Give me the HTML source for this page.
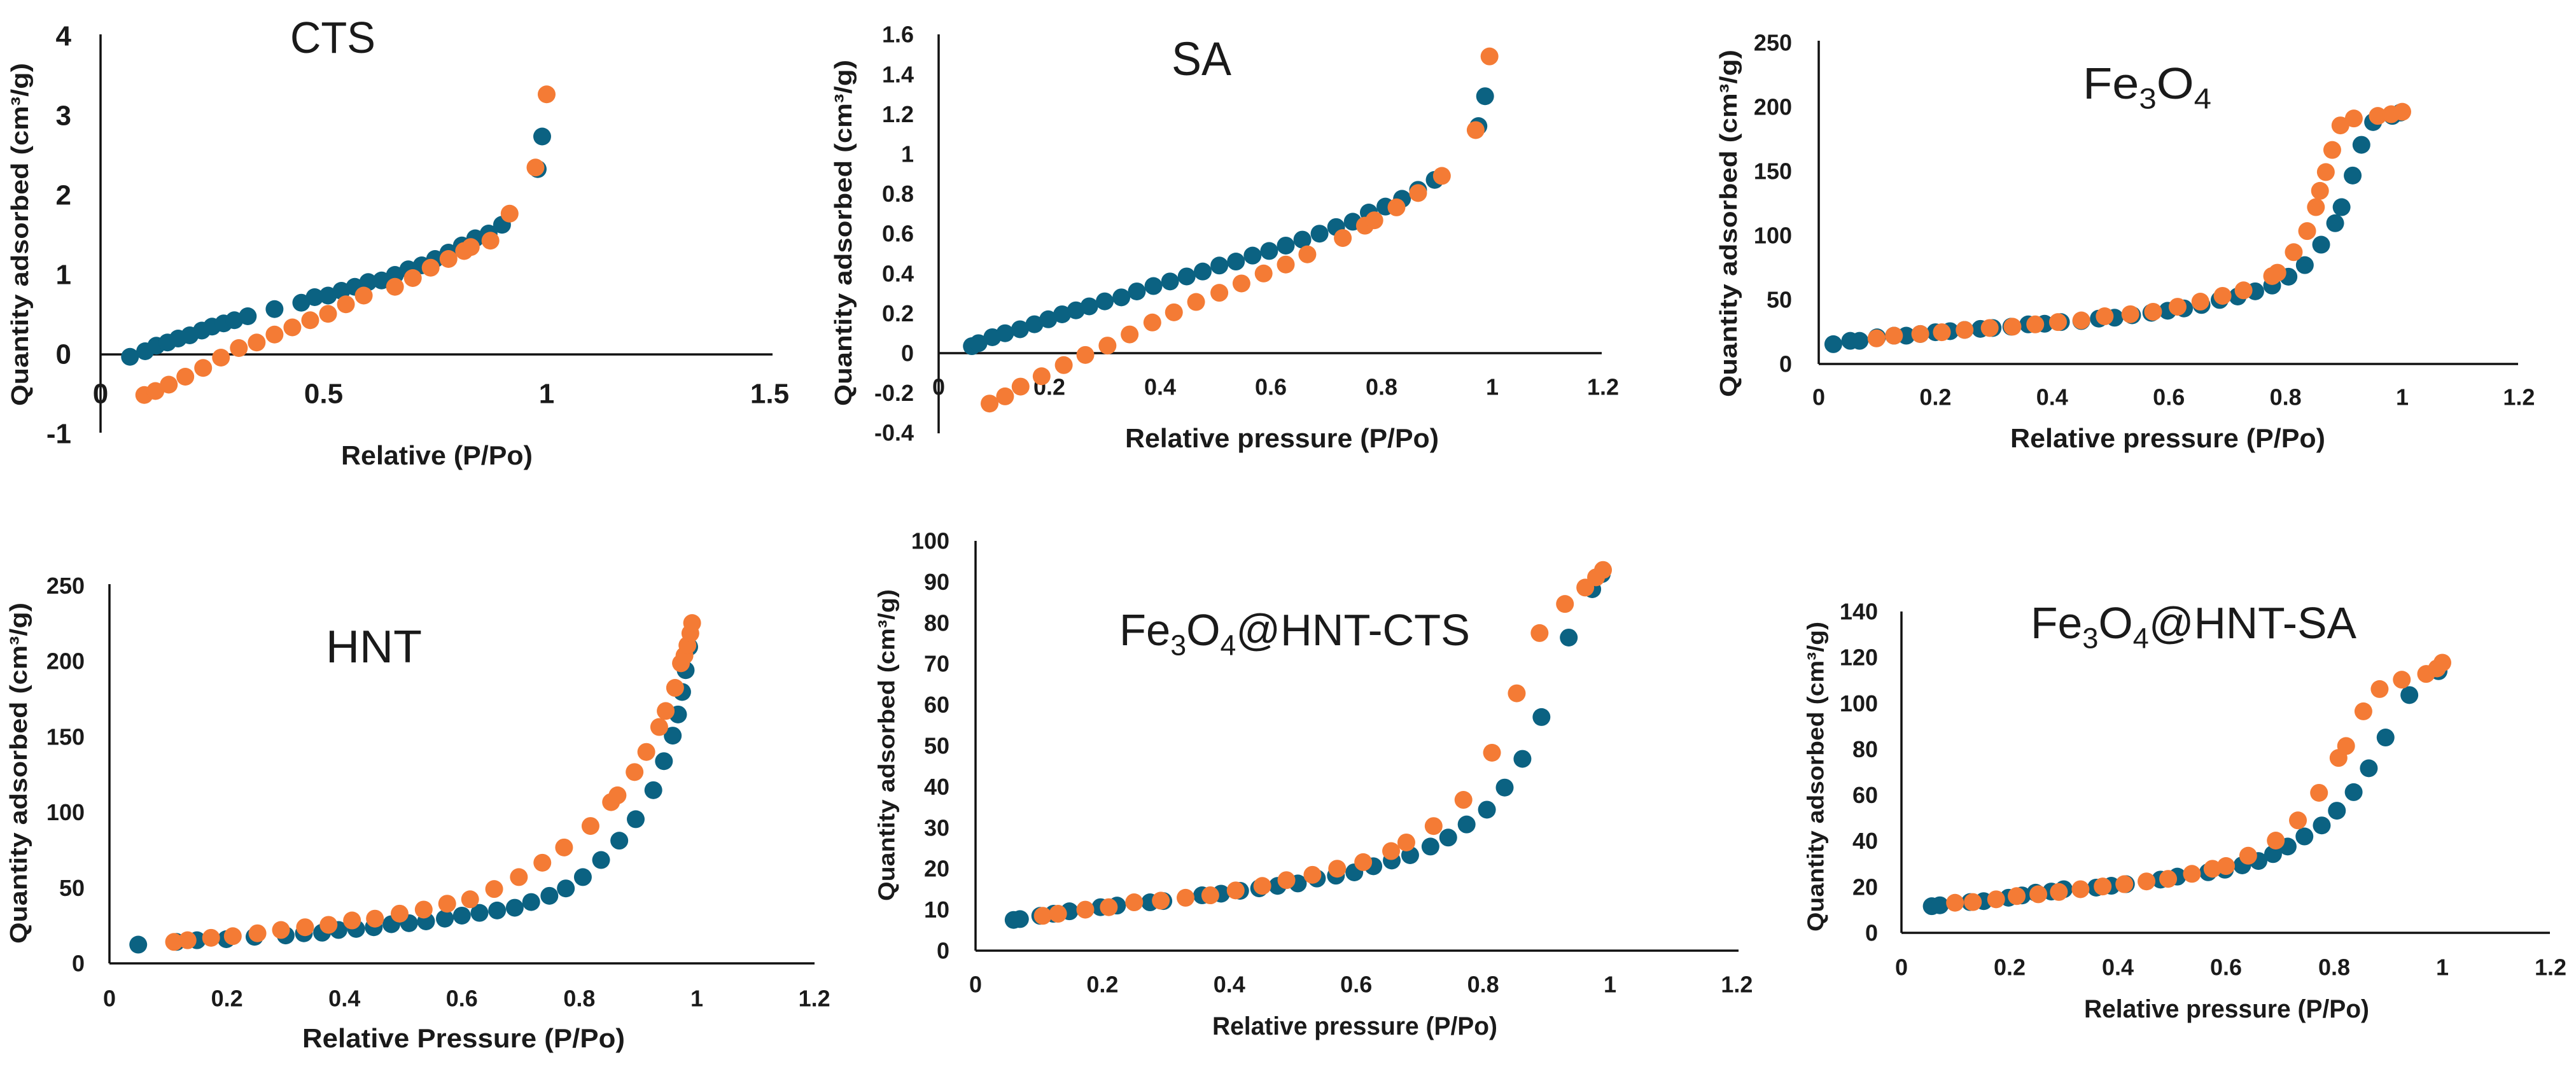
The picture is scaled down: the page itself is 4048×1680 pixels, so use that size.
<!DOCTYPE html>
<html><head><meta charset="utf-8"><style>
html,body{margin:0;padding:0;background:#fff;}
svg{display:block;}
text{font-family:"Liberation Sans Narrow","Liberation Sans",sans-serif;fill:#1a1a1a;}
.tick{font-weight:bold;}
.yt{font-family:"Liberation Sans",sans-serif;font-weight:bold;}
.ttl{font-family:"Liberation Sans",sans-serif;}
</style></head><body>
<svg id="fig" width="4048" height="1680" viewBox="0 0 4048 1680" xmlns="http://www.w3.org/2000/svg"></svg>
<script>
// ---- data ----
const ctsBx=[0.066,0.10,0.125,0.15,0.174,0.2,0.227,0.25,0.276,0.3,0.33,0.39,0.45,0.48,0.51,0.54,0.57,0.6,0.63,0.66,0.69,0.72,0.75,0.78,0.81,0.84,0.87,0.9,0.98,0.99];
const ctsBy=[-0.03,0.04,0.11,0.15,0.2,0.24,0.3,0.35,0.39,0.43,0.48,0.57,0.65,0.72,0.74,0.8,0.85,0.91,0.93,1.0,1.07,1.12,1.2,1.28,1.37,1.46,1.52,1.63,2.33,2.74];
const ctsOx=[0.098,0.123,0.153,0.19,0.23,0.27,0.31,0.35,0.39,0.43,0.47,0.51,0.55,0.59,0.66,0.7,0.74,0.78,0.815,0.83,0.874,0.917,0.975,1.0];
const ctsOy=[-0.51,-0.46,-0.38,-0.28,-0.17,-0.04,0.08,0.15,0.25,0.34,0.43,0.51,0.63,0.74,0.85,0.96,1.09,1.2,1.3,1.35,1.43,1.77,2.35,3.27];
const ctsXTicks=["0","0.5","1","1.5"];
const ctsYTicks=["-1","0","1","2","3","4"];

const saBx=[0.06,0.072,0.097,0.12,0.147,0.173,0.198,0.223,0.248,0.272,0.3,0.33,0.358,0.388,0.418,0.448,0.477,0.507,0.537,0.567,0.597,0.627,0.657,0.688,0.718,0.748,0.777,0.807,0.837,0.866,0.896,0.975,0.987];
const saBy=[0.035,0.05,0.08,0.1,0.12,0.145,0.17,0.195,0.215,0.235,0.26,0.28,0.31,0.337,0.36,0.385,0.41,0.44,0.46,0.49,0.513,0.54,0.57,0.6,0.633,0.66,0.706,0.736,0.775,0.82,0.87,1.14,1.29];
const saOx=[0.092,0.12,0.148,0.186,0.226,0.265,0.305,0.345,0.386,0.425,0.465,0.507,0.547,0.587,0.627,0.666,0.73,0.77,0.787,0.827,0.866,0.909,0.97,0.995];
const saOy=[-0.253,-0.217,-0.168,-0.116,-0.06,-0.009,0.038,0.094,0.154,0.205,0.257,0.303,0.35,0.4,0.445,0.496,0.578,0.64,0.667,0.732,0.804,0.89,1.12,1.49];
const saXTicks=["0","0.2","0.4","0.6","0.8","1","1.2"];
const saYTicks=["-0.4","-0.2","0","0.2","0.4","0.6","0.8","1","1.2","1.4","1.6"];

const feBx=[0.025,0.054,0.07,0.1,0.129,0.15,0.174,0.2,0.225,0.25,0.277,0.298,0.33,0.359,0.387,0.415,0.45,0.48,0.507,0.537,0.57,0.598,0.626,0.656,0.687,0.718,0.748,0.777,0.805,0.833,0.861,0.885,0.896,0.915,0.93,0.95,0.983,0.997];
const feBy=[15.4,18,18,20.7,22,22,23.3,24.7,25.5,26.5,27.3,28,29,30.8,31.3,32.6,33.4,35.3,36,37.9,39.8,41.4,43.2,45.9,49.8,52.5,56.5,61,67.9,76.9,92.8,109.5,122,146.6,170.5,188.2,193,195.6];
const feOx=[0.099,0.129,0.174,0.211,0.25,0.293,0.332,0.371,0.41,0.45,0.49,0.534,0.573,0.615,0.654,0.692,0.728,0.777,0.786,0.814,0.837,0.852,0.859,0.869,0.88,0.894,0.917,0.958,0.981,1.0];
const feOy=[19.9,22,23.3,24.7,26.5,28,29,30.8,32.6,33.9,37.1,38.7,40.6,44.5,48.5,53,57.3,68.4,71,87,103.4,122,134.7,149.3,166.5,185.6,191,193,194.3,196.2];
const feXTicks=["0","0.2","0.4","0.6","0.8","1","1.2"];
const feYTicks=["0","50","100","150","200","250"];

const hntBx=[0.049,0.114,0.149,0.199,0.247,0.3,0.331,0.362,0.39,0.42,0.45,0.48,0.51,0.539,0.571,0.6,0.63,0.66,0.69,0.718,0.749,0.777,0.806,0.837,0.868,0.896,0.926,0.944,0.959,0.968,0.975,0.981,0.987];
const hntBy=[12.4,14.2,15.3,16,17.6,18.5,19.9,20.3,22.1,22.8,23.9,25.9,26.6,27.8,29.6,31.6,33.4,35,36.8,40.6,44.7,49.6,57.1,68.4,81.2,95.4,114.6,133.8,150.7,164.7,179.6,194,209.4];
const hntOx=[0.11,0.133,0.173,0.21,0.252,0.292,0.333,0.373,0.413,0.452,0.494,0.535,0.575,0.614,0.655,0.697,0.737,0.774,0.819,0.854,0.865,0.894,0.914,0.936,0.947,0.963,0.973,0.979,0.984,0.989,0.992];
const hntOy=[14.2,15.3,16.9,18,19.9,22.1,23.9,25.5,28.4,29.6,32.9,35.6,39.5,42.4,49.2,57.1,66.6,76.7,90.9,106.7,111.2,126.6,139.9,156.4,167,182.3,198.6,203.7,210.5,218.4,225.2];
const hntXTicks=["0","0.2","0.4","0.6","0.8","1","1.2"];
const hntYTicks=["0","50","100","150","200","250"];

const hcBx=[0.06,0.07,0.102,0.123,0.148,0.197,0.223,0.275,0.296,0.357,0.387,0.417,0.447,0.476,0.508,0.538,0.568,0.597,0.627,0.656,0.685,0.717,0.745,0.774,0.806,0.834,0.862,0.892,0.935,0.972,0.987];
const hcBy=[7.5,7.7,8.5,9,9.6,10.6,11,11.8,12.1,13.5,13.9,14.6,15.2,15.8,16.4,17.6,18.3,19.1,20.6,22,23.3,25.4,27.6,30.8,34.4,39.8,46.8,57,76.4,88.2,91.9];
const hcOx=[0.106,0.13,0.173,0.21,0.25,0.292,0.331,0.37,0.41,0.452,0.49,0.531,0.57,0.611,0.655,0.679,0.722,0.769,0.814,0.853,0.889,0.929,0.961,0.978,0.989];
const hcOy=[8.5,9,10,10.6,11.8,12.2,12.9,13.5,14.7,15.8,17.2,18.5,20,21.6,24.3,26.4,30.4,36.8,48.3,62.8,77.5,84.6,88.6,91.1,92.9];
const hcXTicks=["0","0.2","0.4","0.6","0.8","1","1.2"];
const hcYTicks=["0","10","20","30","40","50","60","70","80","90","100"];

const hsBx=[0.056,0.071,0.127,0.152,0.198,0.223,0.248,0.277,0.3,0.36,0.388,0.415,0.479,0.51,0.567,0.598,0.63,0.66,0.687,0.714,0.745,0.777,0.805,0.836,0.864,0.895,0.939,0.993];
const hsBy=[11.6,12,13.4,13.8,15.3,16.3,17.5,18,19,19.7,20.5,21.2,23.2,24.5,26.4,27.5,29.4,31.3,34.3,37.6,42,46.8,53.2,61.3,71.7,85.1,103.6,114];
const hsOx=[0.099,0.132,0.175,0.213,0.253,0.291,0.331,0.372,0.412,0.453,0.493,0.537,0.575,0.6,0.641,0.692,0.733,0.772,0.808,0.822,0.854,0.884,0.925,0.97,0.99,1.0];
const hsOy=[13.1,13.4,14.6,16,16.8,17.8,19,20.2,21.2,22.4,23.5,25.7,27.9,29.1,33.6,40.2,49,61,76.2,81.4,96.5,106.2,110.3,112.8,115.2,117.7];
const hsXTicks=["0","0.2","0.4","0.6","0.8","1","1.2"];
const hsYTicks=["0","20","40","60","80","100","120","140"];

// ---- layout ----
const NS="http://www.w3.org/2000/svg";
const svg=document.getElementById('fig');
function mk(tag,attrs,parent,txt){const e=document.createElementNS(NS,tag);for(const k in attrs)e.setAttribute(k,attrs[k]);if(txt!==undefined)e.textContent=txt;parent.appendChild(e);return e;}
const BLUE="#0b6282",ORANGE="#f47b35";

const charts=[
 {id:"cts",bx:ctsBx,by:ctsBy,ox:ctsOx,oy:ctsOy,xt:ctsXTicks,yt:ctsYTicks,
  x0:158,xu:701,y0:557,yu:125,axTop:54,axBot:680,xEnd:1214,xLabY:619,yLabR:112,tick:44,
  title:[["CTS"]],tX:456,tW:134,tY:83,tFs:70,
  xTitle:"Relative (P/Po)",xtX1:536,xtX2:837,xtY:730,xtFs:42,
  ytX:32,ytY1:99,ytY2:638,ytFs:38,ytTxt:"Quantity adsorbed (cm³/g)"},
 {id:"sa",bx:saBx,by:saBy,ox:saOx,oy:saOy,xt:saXTicks,yt:saYTicks,
  x0:1475,xu:870,y0:555,yu:313,axTop:54,axBot:681,xEnd:2517,xLabY:608,yLabR:1436,tick:36,
  title:[["SA"]],tX:1841,tW:94,tY:118,tFs:74,
  xTitle:"Relative pressure (P/Po)",xtX1:1768,xtX2:2261,xtY:703,xtFs:42,
  ytX:1326,ytY1:94,ytY2:638,ytFs:38,ytTxt:"Quantity  adsorbed  (cm³/g)"},
 {id:"fe3o4",bx:feBx,by:feBy,ox:feOx,oy:feOy,xt:feXTicks,yt:feYTicks,
  x0:2858,xu:917,y0:572,yu:2.02,axTop:64,axBot:572,xEnd:3957,xLabY:624,yLabR:2816,tick:36,
  title:[["Fe"],["3","sub"],["O"],["4","sub"]],tX:3273,tW:202,tY:155,tFs:70,
  xTitle:"Relative pressure (P/Po)",xtX1:3159,xtX2:3654,xtY:703,xtFs:42,
  ytX:2717,ytY1:78,ytY2:624,ytFs:38,ytTxt:"Quantity  adsorbed (cm³/g)"},
 {id:"hnt",bx:hntBx,by:hntBy,ox:hntOx,oy:hntOy,xt:hntXTicks,yt:hntYTicks,
  x0:172,xu:923,y0:1514,yu:2.375,axTop:918,axBot:1514,xEnd:1280,xLabY:1569,yLabR:133,tick:36,
  title:[["HNT"]],tX:512,tW:151,tY:1041,tFs:72,
  xTitle:"Relative  Pressure (P/Po)",xtX1:475,xtX2:982,xtY:1646,xtFs:42,
  ytX:30,ytY1:947,ytY2:1483,ytFs:38,ytTxt:"Quantity adsorbed (cm³/g)"},
 {id:"hnt-cts",bx:hcBx,by:hcBy,ox:hcOx,oy:hcOy,xt:hcXTicks,yt:hcYTicks,
  x0:1533,xu:997,y0:1494,yu:6.44,axTop:850,axBot:1494,xEnd:2732,xLabY:1547,yLabR:1492,tick:36,
  title:[["Fe"],["3","sub"],["O"],["4","sub"],["@HNT-CTS"]],tX:1759,tW:551,tY:1014,tFs:70,
  xTitle:"Relative pressure (P/Po)",xtX1:1905,xtX2:2353,xtY:1626,xtFs:40,
  ytX:1393,ytY1:926,ytY2:1416,ytFs:36,ytTxt:"Quantity adsorbed (cm³/g)"},
 {id:"hnt-sa",bx:hsBx,by:hsBy,ox:hsOx,oy:hsOy,xt:hsXTicks,yt:hsYTicks,
  x0:2988,xu:850,y0:1466,yu:3.607,axTop:961,axBot:1466,xEnd:4007,xLabY:1520,yLabR:2951,tick:36,
  title:[["Fe"],["3","sub"],["O"],["4","sub"],["@HNT-SA"]],tX:3191,tW:512,tY:1003,tFs:70,
  xTitle:"Relative pressure (P/Po)",xtX1:3275,xtX2:3723,xtY:1599,xtFs:40,
  ytX:2853,ytY1:977,ytY2:1464,ytFs:36,ytTxt:"Quantity adsorbed (cm³/g)"}
];

charts.forEach(c=>{
  const g=mk('g',{},svg);
  
  
  const sx=v=>c.x0+v*c.xu, sy=v=>c.y0-v*c.yu;
  // axes
  const ya=mk('line',{x1:c.x0,y1:c.axTop,x2:c.x0,y2:c.axBot,stroke:'#111','stroke-width':3.5},g);
  
  
  const xa=mk('line',{x1:c.x0,y1:c.y0,x2:c.xEnd,y2:c.y0,stroke:'#111','stroke-width':3.5},g);
  
  
  // ticks labels
  c.xt.forEach(t=>{
    const e=mk('text',{x:sx(parseFloat(t)),y:c.xLabY,'font-size':c.tick,'text-anchor':'middle','dominant-baseline':'central',class:'tick'},g,t);
    
    
  });
  c.yt.forEach(t=>{
    const e=mk('text',{x:c.yLabR,y:sy(parseFloat(t)),'font-size':c.tick,'text-anchor':'end','dominant-baseline':'central',class:'tick'},g,t);
    
    
  });
  // points
  const drawS=(xs,ys,col,nm)=>{xs.forEach((v,i)=>{
    const d=mk('circle',{cx:sx(v),cy:sy(ys[i]),r:14,fill:col},g);
    
    
  });};
  drawS(c.bx,c.by,BLUE,'adsorption');
  drawS(c.ox,c.oy,ORANGE,'desorption');
  // title
  const tt=mk('text',{x:c.tX,y:c.tY,'font-size':c.tFs,class:'ttl',textLength:c.tW,lengthAdjust:'spacingAndGlyphs'},g);
  
  
  c.title.forEach(p=>{
    const s=mk('tspan',p[1]?{'font-size':c.tFs*0.65,dy:c.tFs*0.22}:{dy:0},tt,p[0]);
    if(p[1]){s.setAttribute('dy',c.tFs*0.22);} 
    else if(tt.childNodes.length>1){s.setAttribute('dy',-c.tFs*0.22);}
  });
  // fix dy: reset after subscript
  // x title
  const xt=mk('text',{x:c.xtX1,y:c.xtY,'font-size':c.xtFs,class:'tick',textLength:c.xtX2-c.xtX1,lengthAdjust:'spacingAndGlyphs'},g,c.xTitle);
  
  
  // y title
  const cy=(c.ytY1+c.ytY2)/2;
  const yt=mk('text',{x:0,y:0,'font-size':c.ytFs,class:'yt','text-anchor':'middle','dominant-baseline':'central',textLength:c.ytY2-c.ytY1,lengthAdjust:'spacingAndGlyphs',transform:`translate(${c.ytX},${cy}) rotate(-90)`},g,c.ytTxt);
  
  
});
</script>
</body></html>
